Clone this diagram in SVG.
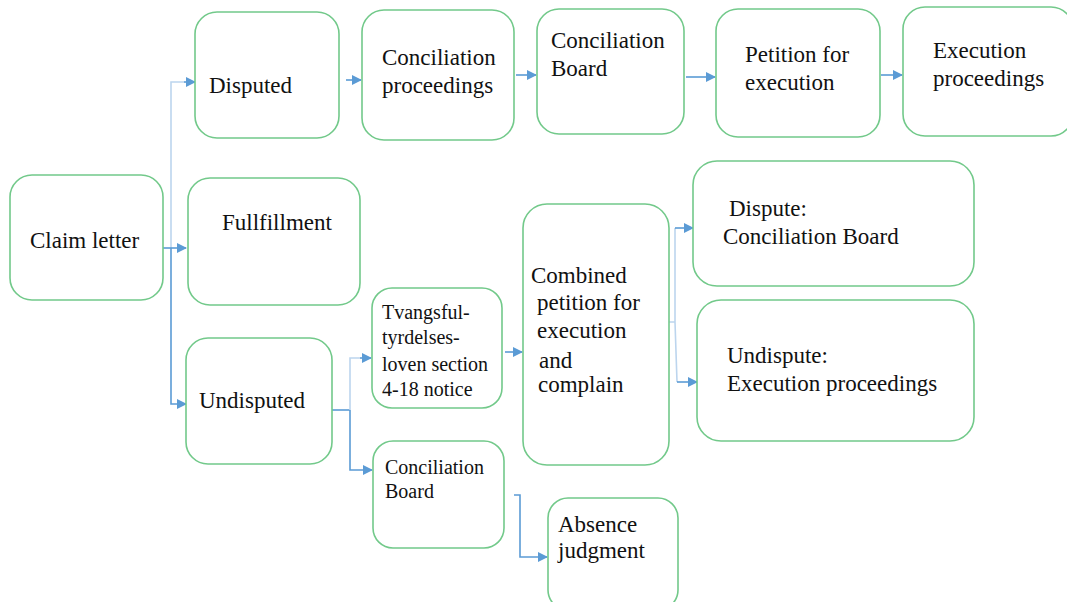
<svg xmlns="http://www.w3.org/2000/svg" width="1067" height="602" viewBox="0 0 1067 602">
<style>
.box{fill:#ffffff;stroke:#72c98a;stroke-width:1.6}
text{fill:#111}
.c{fill:none;stroke:#5b9bd5;stroke-width:1.6}
.cl{fill:none;stroke:#bcd5ee;stroke-width:1.6}
</style>
<defs>
<marker id="ah" viewBox="0 0 10 10" refX="9" refY="5" markerWidth="10" markerHeight="10" markerUnits="userSpaceOnUse" orient="auto">
<path d="M0,0 L10,5 L0,10 z" fill="#5b9bd5"/>
</marker>
</defs>
<rect width="1067" height="602" fill="#ffffff"/>
<g id="connectors">
<path class="cl" d="M171,248 V82 H184"/>
<path class="c" d="M184,82 H195" marker-end="url(#ah)"/>
<path class="c" d="M163,248 H186" marker-end="url(#ah)"/>
<path class="c" d="M171,248 V404 H186" marker-end="url(#ah)"/>
<path class="c" d="M346,80 H361" marker-end="url(#ah)"/>
<path class="c" d="M516,75 H536" marker-end="url(#ah)"/>
<path class="c" d="M686,77 H715" marker-end="url(#ah)"/>
<path class="c" d="M881,75 H902" marker-end="url(#ah)"/>
<path class="c" d="M332,410 H350"/>
<path class="cl" d="M350,410 V358 H360"/>
<path class="c" d="M360,358 H371" marker-end="url(#ah)"/>
<path class="c" d="M350,410 V470 H372" marker-end="url(#ah)"/>
<path class="c" d="M505,352 H522" marker-end="url(#ah)"/>
<path class="cl" d="M669,322 H675 M675,322 V228 M675,322 L677,382"/>
<path class="c" d="M675,228 H693" marker-end="url(#ah)"/>
<path class="c" d="M677,382 H697" marker-end="url(#ah)"/>
<path class="c" d="M514,495 H520 V557 H547" marker-end="url(#ah)"/>
</g>
<g font-family="Liberation Serif, Times New Roman, serif" font-size="23">
<g id="claim-letter">
<rect class="box" x="10" y="175" width="153" height="125" rx="22"/>
<text x="30" y="248">Claim letter</text>
</g>
<g id="disputed">
<rect class="box" x="195" y="12" width="144" height="126" rx="22"/>
<text x="209" y="93">Disputed</text>
</g>
<g id="fullfillment">
<rect class="box" x="188" y="178" width="172" height="127" rx="22"/>
<text x="222" y="230">Fullfillment</text>
</g>
<g id="undisputed">
<rect class="box" x="186" y="338" width="146" height="126" rx="22"/>
<text x="199" y="408">Undisputed</text>
</g>
<g id="conciliation-proceedings">
<rect class="box" x="362" y="10" width="152" height="130" rx="22"/>
<text x="382" y="65">Conciliation</text>
<text x="382" y="93">proceedings</text>
</g>
<g id="conciliation-board-top">
<rect class="box" x="537" y="9" width="147" height="125" rx="22"/>
<text x="551" y="48">Conciliation</text>
<text x="551" y="76">Board</text>
</g>
<g id="petition-for-execution">
<rect class="box" x="716" y="9" width="164" height="128" rx="22"/>
<text x="745" y="62">Petition for</text>
<text x="745" y="90">execution</text>
</g>
<g id="execution-proceedings">
<rect class="box" x="903" y="7" width="170" height="129" rx="22"/>
<text x="933" y="58">Execution</text>
<text x="933" y="86">proceedings</text>
</g>
<g id="tvangs-notice" font-size="20">
<rect class="box" x="372" y="288" width="130" height="120" rx="20"/>
<text x="382" y="319">Tvangsful-</text>
<text x="382" y="344">tyrdelses-</text>
<text x="382" y="371">loven section</text>
<text x="382" y="396">4-18 notice</text>
</g>
<g id="combined-petition">
<rect class="box" x="523" y="204" width="146" height="261" rx="24"/>
<text x="531" y="283">Combined</text>
<text x="537" y="310">petition for</text>
<text x="537" y="338">execution</text>
<text x="539" y="368">and</text>
<text x="538" y="392">complain</text>
</g>
<g id="dispute-board">
<rect class="box" x="693" y="161" width="281" height="125" rx="24"/>
<text x="729" y="216">Dispute:</text>
<text x="723" y="244">Conciliation Board</text>
</g>
<g id="undispute-execution">
<rect class="box" x="697" y="300" width="277" height="141" rx="24"/>
<text x="727" y="363">Undispute:</text>
<text x="727" y="391">Execution proceedings</text>
</g>
<g id="conciliation-board-bottom" font-size="20">
<rect class="box" x="373" y="441" width="131" height="107" rx="20"/>
<text x="385" y="474">Conciliation</text>
<text x="385" y="498">Board</text>
</g>
<g id="absence-judgment">
<rect class="box" x="548" y="498" width="130" height="112" rx="20"/>
<text x="558" y="532">Absence</text>
<text x="558" y="558">judgment</text>
</g>
</g>
</svg>
